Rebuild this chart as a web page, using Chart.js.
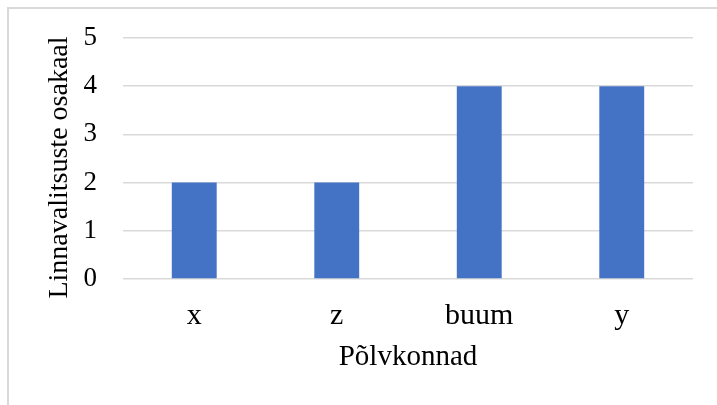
<!DOCTYPE html>
<html>
<head>
<meta charset="utf-8">
<script src="https://cdn.jsdelivr.net/npm/chart.js@4/dist/chart.umd.min.js"></script>
<style>
  html, body { margin: 0; padding: 0; background: #fff; overflow: hidden; }
  #wrap { position: relative; width: 717px; height: 405px; }
  #frame { position: absolute; left: 7px; top: 7px; width: 740px; height: 440px; border: 2px solid #d9d9d9; box-sizing: border-box; }
  canvas { position: absolute; left: 0; top: 0; }
</style>
</head>
<body>
<div id="wrap">
  <div id="frame"></div>
  <canvas id="chart" width="717" height="405"></canvas>
</div>
<script>
// Generations and their share of city-government members
const categories = ['x', 'z', 'buum', 'y'];
const shares = [2, 2, 4, 4];
const yTicks = [0, 1, 2, 3, 4, 5];
const xTitle = 'Põlvkonnad';
const yTitle = 'Linnavalitsuste osakaal';

const serif = '"Liberation Serif", "Times New Roman", serif';

// Vertical axis title, drawn rotated beside the plot area
const yTitlePlugin = {
  id: 'yTitle',
  afterDraw(chart) {
    const { ctx, chartArea } = chart;
    ctx.save();
    ctx.translate(chartArea.left - 63, (chartArea.top + chartArea.bottom) / 2 + 9);
    ctx.rotate(-Math.PI / 2);
    ctx.font = '28px ' + serif;
    ctx.fillStyle = '#000';
    ctx.textAlign = 'center';
    ctx.textBaseline = 'middle';
    ctx.fillText(yTitle, 0, 0);
    ctx.restore();
  }
};

new Chart(document.getElementById('chart'), {
  type: 'bar',
  data: {
    labels: categories,
    datasets: [{
      data: shares,
      backgroundColor: '#4472C4',
      borderWidth: 0,
      barPercentage: 1,
      categoryPercentage: 0.315
    }]
  },
  options: {
    responsive: false,
    animation: false,
    layout: { padding: { left: 31, top: 38, right: 24, bottom: 0 } },
    plugins: { legend: { display: false }, tooltip: { enabled: false } },
    scales: {
      x: {
        grid: { display: false, drawTicks: false },
        border: { display: false },
        ticks: { color: '#000', font: { family: serif, size: 30 }, padding: 19 },
        title: {
          display: true, text: xTitle, color: '#000',
          font: { family: serif, size: 29 }, padding: { top: 0, bottom: 30 }
        },
        afterFit: (s) => { s.height = 126; }
      },
      y: {
        min: 0, max: 5,
        afterBuildTicks: (s) => { s.ticks = yTicks.map(v => ({ value: v })); },
        grid: { color: '#d9d9d9', lineWidth: 1.5, drawTicks: false },
        border: { display: false },
        ticks: { color: '#000', font: { family: serif, size: 27, lineHeight: 0.8 }, padding: 26 },
        afterFit: (s) => { s.width = 92; }
      }
    }
  },
  plugins: [yTitlePlugin]
});
</script>
</body>
</html>
